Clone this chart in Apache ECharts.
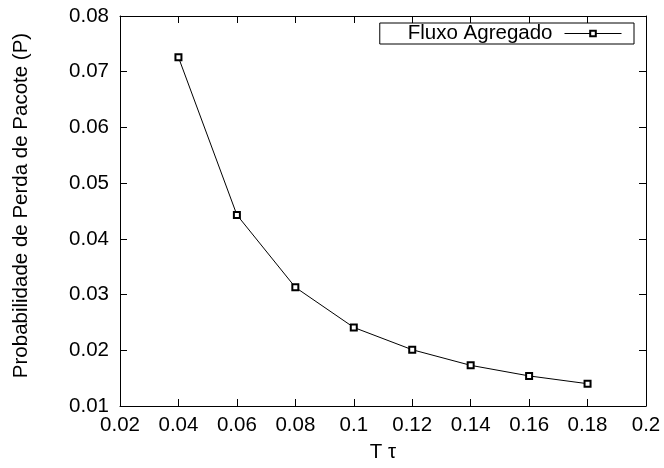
<!DOCTYPE html>
<html><head><meta charset="utf-8">
<script src="https://cdn.jsdelivr.net/npm/echarts@6/dist/echarts.min.js"></script>
<style>html,body{margin:0;padding:0;background:#fff}#c{width:664px;height:468px}</style>
</head><body><div id="c"></div>
<script>
const xValues = [0.04, 0.06, 0.08, 0.10, 0.12, 0.14, 0.16, 0.18];
const yValues = [0.0726, 0.0443, 0.0313, 0.0241, 0.0201, 0.0173, 0.0154, 0.0140];
const seriesName = 'Fluxo Agregado';
const xAxisName = 'T τ';
const yAxisName = 'Probabilidade de Perda de Pacote (P)';

const FONT = 'Liberation Sans, Arial, sans-serif';
const FS = 20.5;
const chart = echarts.init(document.getElementById('c'), null, {renderer: 'canvas'});
const axLine = {show: true, lineStyle: {color: '#000', width: 1}};
const tick = {show: true, inside: true, length: 7, lineStyle: {color: '#000', width: 1}};
chart.setOption({
  animation: false,
  backgroundColor: '#fff',
  grid: {left: 120, right: 18, top: 16, bottom: 62, containLabel: false},
  legend: {
    data: [seriesName], right: 30, top: 23, align: 'right',
    itemWidth: 57, itemHeight: 7, padding: [0, 12, 0, 28],
    borderColor: '#000', borderWidth: 1, backgroundColor: '#fff',
    lineStyle: {width: 1, color: '#000'},
    itemStyle: {borderWidth: 1, borderColor: '#000'},
    textStyle: {fontFamily: FONT, fontSize: FS, color: '#000', padding: [0, 7, 0, 0]}
  },
  xAxis: [{
    type: 'value', min: 0.02, max: 0.2, interval: 0.02,
    name: xAxisName, nameLocation: 'middle', nameGap: 36,
    nameTextStyle: {fontFamily: FONT, fontSize: FS, color: '#000'},
    axisLine: axLine, axisTick: tick, splitLine: {show: false},
    axisLabel: {fontFamily: FONT, fontSize: FS, color: '#000', margin: 9,
      formatter: v => String(Math.round(v * 100) / 100)}
  }, {
    type: 'value', position: 'top', min: 0.02, max: 0.2, interval: 0.02,
    axisLine: axLine, axisTick: tick, axisLabel: {show: false}, splitLine: {show: false}
  }],
  yAxis: [{
    type: 'value', min: 0.01, max: 0.08, interval: 0.01,
    name: yAxisName, nameLocation: 'middle', nameGap: 88,
    nameTextStyle: {fontFamily: FONT, fontSize: 20.5, color: '#000', padding: [0, 0, 0, 11]},
    axisLine: axLine, axisTick: tick, splitLine: {show: false},
    axisLabel: {fontFamily: FONT, fontSize: FS, color: '#000', margin: 11,
      formatter: v => (Math.round(v * 100) / 100).toFixed(2)}
  }, {
    type: 'value', position: 'right', min: 0.01, max: 0.08, interval: 0.01,
    axisLine: axLine, axisTick: tick, axisLabel: {show: false}, splitLine: {show: false}
  }],
  series: [{
    name: seriesName, type: 'line',
    data: xValues.map((x, i) => [x, yValues[i]]),
    symbol: 'emptyRect', symbolSize: 6,
    lineStyle: {color: '#000', width: 1},
    itemStyle: {color: '#000', borderColor: '#000', borderWidth: 1}
  }]
});
</script></body></html>
